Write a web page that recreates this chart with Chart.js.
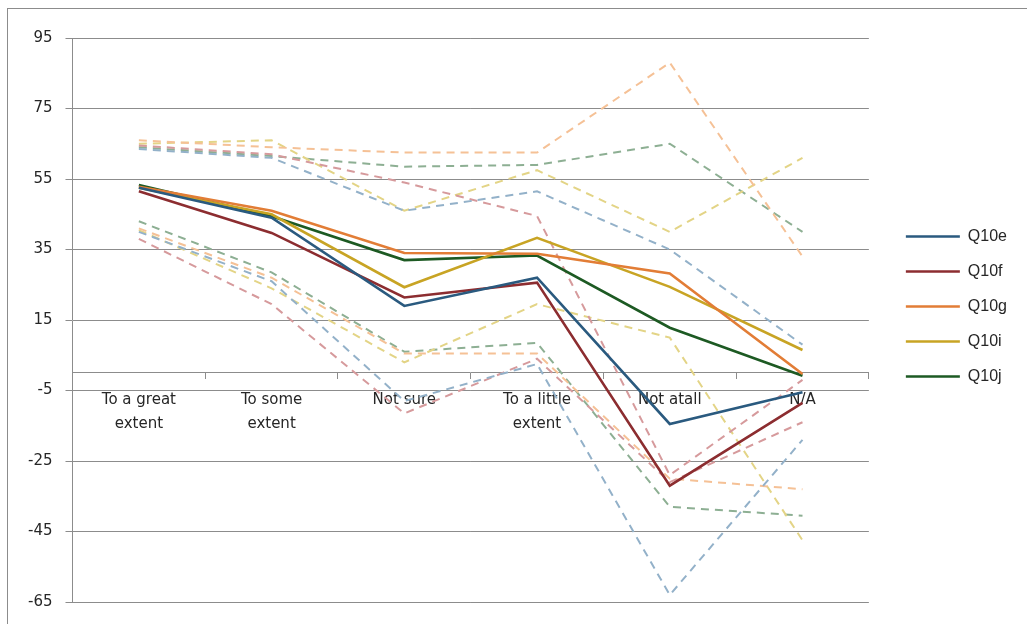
<!DOCTYPE html>
<html>
<head>
<meta charset="utf-8">
<script src="https://cdn.jsdelivr.net/npm/chart.js@4.4.0/dist/chart.umd.min.js"></script>
<style>
  html, body { margin: 0; padding: 0; background: #fff; overflow: hidden; }
  #frame { position: absolute; left: 7px; top: 8px; width: 1040px; height: 640px; border: 1px solid #8c8c8c; }
  #wrap { position: absolute; left: 0; top: 0; width: 1027px; height: 624px; }
</style>
</head>
<body>
<div id="frame"></div>
<div id="wrap"><canvas id="myChart"></canvas></div>
<script>
// categories on the x axis
var categories = [['To a great', 'extent'], ['To some', 'extent'], 'Not sure', ['To a little', 'extent'], 'Not atall', 'N/A'];
var yTicks = [-65, -45, -25, -5, 15, 35, 55, 75, 95];

// solid lines
var q10e = [52.5, 44, 19, 27, -14.5, -5.5];
var q10f = [51.5, 39.7, 21.4, 25.6, -32, -8.5];
var q10g = [52.8, 46, 34, 33.8, 28.2, -0.3];
var q10i = [52.5, 45, 24.3, 38.3, 24.4, 6.5];
var q10j = [53.3, 44.4, 32, 33.3, 12.8, -0.8];

// dashed upper lines
var q10eHigh = [63.5, 61, 46, 51.5, 35, 8];
var q10fHigh = [64.5, 62, 54, 44.5, -29, -2];
var q10gHigh = [66, 64, 62.5, 62.5, 88, 33];
var q10iHigh = [65, 66, 46, 57.5, 40, 61];
var q10jHigh = [64, 61.5, 58.5, 59, 65, 40];

// dashed lower lines
var q10eLow = [40, 26, -8, 2.5, -63, -19];
var q10fLow = [38, 19.5, -11.5, 4, -31, -14];
var q10gLow = [41, 27, 5.5, 5.5, -30, -33];
var q10iLow = [40.5, 24, 3, 19.5, 10, -47.5];
var q10jLow = [43, 28.5, 6, 8.5, -38, -40.5];

var names = ['Q10e', 'Q10f', 'Q10g', 'Q10i', 'Q10j'];
var solidColors = ['#2A5A7F', '#8C2D30', '#E27D36', '#C8A424', '#1D5A23'];
var dashColors = ['#93B1C9', '#D69A9C', '#F5C196', '#E3D486', '#8DAF93'];

function line(label, data, color, dashed) {
    return {
        label: label,
        data: data,
        borderColor: color,
        backgroundColor: color,
        borderWidth: dashed ? 2 : 2.6,
        borderDash: dashed ? [8, 6] : [],
        pointRadius: 0,
        fill: false,
        tension: 0
    };
}

var datasets = [
    line(names[0], q10e, solidColors[0], false),
    line(names[1], q10f, solidColors[1], false),
    line(names[2], q10g, solidColors[2], false),
    line(names[3], q10i, solidColors[3], false),
    line(names[4], q10j, solidColors[4], false),
    line('e high', q10eHigh, dashColors[0], true),
    line('f high', q10fHigh, dashColors[1], true),
    line('g high', q10gHigh, dashColors[2], true),
    line('i high', q10iHigh, dashColors[3], true),
    line('j high', q10jHigh, dashColors[4], true),
    line('e low', q10eLow, dashColors[0], true),
    line('f low', q10fLow, dashColors[1], true),
    line('g low', q10gLow, dashColors[2], true),
    line('i low', q10iLow, dashColors[3], true),
    line('j low', q10jLow, dashColors[4], true)
];

var gridColor = '#8c8c8c';
var textColor = '#262626';

// nudge the legend a bit right and up, like the excel one
var legendNudge = {
    id: 'legendNudge',
    afterLayout: function(chart) {
        var lg = chart.legend;
        if (!lg) return;
        lg.left += 18; lg.right += 18;
        lg.top -= 14; lg.bottom -= 14;
    }
};

var ctx = document.getElementById('myChart').getContext('2d');
var myChart = new Chart(ctx, {
    type: 'line',
    data: { labels: categories, datasets: datasets },
    plugins: [legendNudge],
    options: {
        responsive: true,
        maintainAspectRatio: false,
        animation: false,
        layout: { padding: { left: 15, top: 38, right: 28, bottom: 21 } },
        scales: {
            x: {
                position: { y: 0 },
                offset: true,
                grid: { display: true, drawOnChartArea: false, drawTicks: true, tickLength: 6, offset: true, color: gridColor },
                border: { display: true, color: gridColor, width: 1 },
                ticks: {
                    maxRotation: 0, autoSkip: false, padding: 9, color: textColor,
                    font: { family: '"DejaVu Sans", sans-serif', size: 15, lineHeight: 1.6 }
                }
            },
            y: {
                min: -65,
                max: 95,
                afterBuildTicks: function(scale) {
                    scale.ticks = yTicks.map(function(v) { return { value: v }; });
                },
                grid: { color: gridColor, lineWidth: 1, drawTicks: true, tickLength: 7 },
                border: { display: true, color: gridColor, width: 1 },
                ticks: {
                    padding: 13, color: textColor,
                    font: { family: '"DejaVu Sans", sans-serif', size: 15 }
                }
            }
        },
        plugins: {
            tooltip: { enabled: false },
            legend: {
                position: 'right',
                labels: {
                    filter: function(item) { return item.datasetIndex < 5; },
                    usePointStyle: true,
                    pointStyle: 'line',
                    pointStyleWidth: 54,
                    padding: 19,
                    color: '#262626',
                    font: { family: '"Liberation Sans", sans-serif', size: 16 }
                }
            }
        }
    }
});
</script>
</body>
</html>
